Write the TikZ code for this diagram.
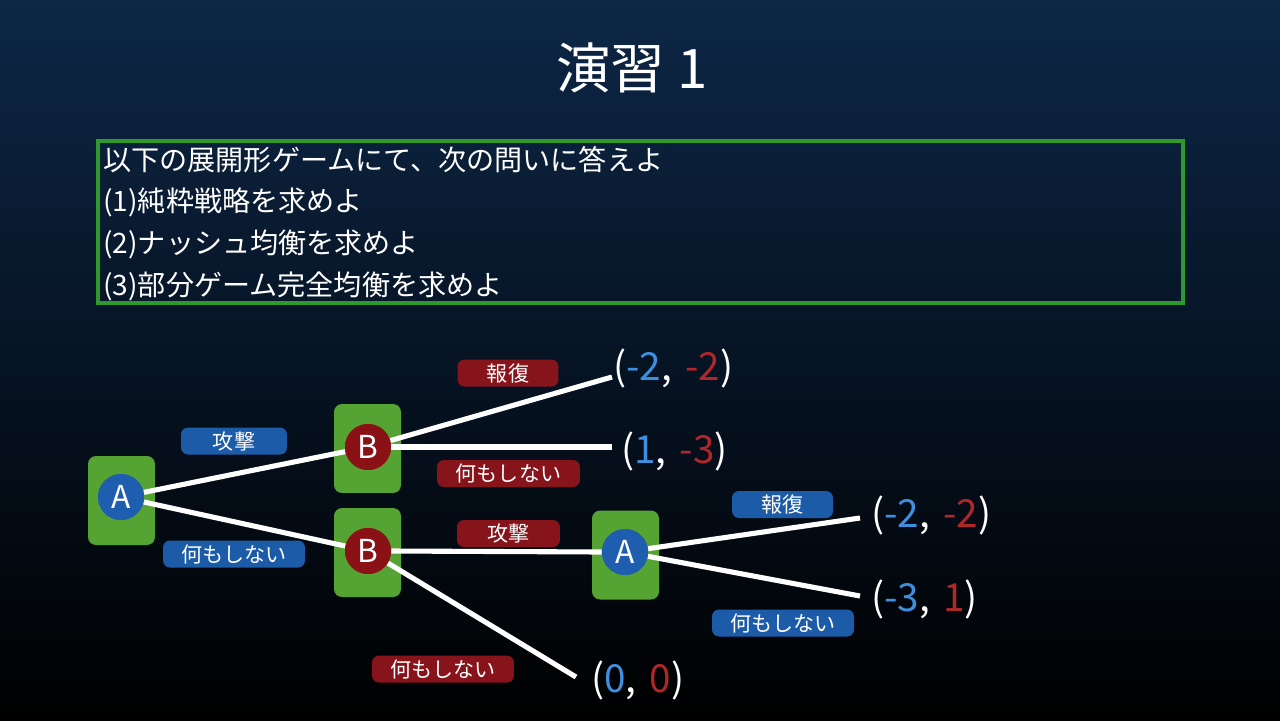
\documentclass[tikz,border=0pt]{standalone}
\usepackage{fontspec}
\setmainfont{Noto Sans CJK JP}
\definecolor{bgtop}{HTML}{0D2747}
\definecolor{bgbot}{HTML}{000000}
\definecolor{boxgreen}{HTML}{2E9A2E}
\definecolor{nodegreen}{HTML}{55A333}
\definecolor{cblue}{HTML}{1F5DAE}
\definecolor{cred}{HTML}{8A1217}
\definecolor{pblue}{HTML}{3E8FE0}
\definecolor{pred}{HTML}{B0272B}
\definecolor{lblue}{HTML}{1B5BA8}
\definecolor{lred}{HTML}{87141B}
\newcommand{\psep}{,\hspace{0.35em}}
\begin{document}
\begin{tikzpicture}[x=0.02cm,y=-0.02cm,
  info/.style={fill=nodegreen,rounded corners=0.16cm,minimum width=1.34cm,minimum height=1.78cm,inner sep=0pt},
  player/.style={circle,minimum size=0.92cm,inner sep=0pt,text=white,font=\fontsize{18pt}{20pt}\selectfont},
  pa/.style={player,fill=cblue},
  pb/.style={player,fill=cred},
  edge/.style={white,line width=2.9pt},
  lab/.style={rounded corners=0.14cm,minimum height=0.54cm,inner sep=0pt,text=white,font=\fontsize{12pt}{14pt}\selectfont},
  labb/.style={lab,fill=lblue},
  labr/.style={lab,fill=lred},
  pay/.style={text=white,inner sep=1pt,anchor=west,font=\fontsize{22pt}{24pt}\selectfont},
  qline/.style={text=white,anchor=west,inner sep=0pt,font=\fontsize{16pt}{20pt}\selectfont}
]
\useasboundingbox (0,0) rectangle (1280,720);
\shade[top color=bgtop,bottom color=bgbot] (0,0) rectangle (1280,720);
% title
\node[text=white,font=\fontsize{31pt}{34pt}\selectfont] (title) at (632,68) {演習 1};
% question box
\node[draw=boxgreen,line width=2pt,minimum width=21.7cm,minimum height=3.24cm,inner sep=0pt] (qbox) at (640.5,222) {};
\node[qline] (q0) at (103,160) {以下の展開形ゲームにて、次の問いに答えよ};
\node[qline] (q1) at (103,202) {(1)純粋戦略を求めよ};
\node[qline] (q2) at (103,244) {(2)ナッシュ均衡を求めよ};
\node[qline] (q3) at (103,286) {(3)部分ゲーム完全均衡を求めよ};
% information sets
\node[info] (g1) at (121.5,500.5) {};
\node[info] (g2) at (367.5,448.5) {};
\node[info] (g3) at (367.5,552.5) {};
\node[info] (g4) at (625.5,555) {};
% players
\node[pa] (a1) at (121,497) {A};
\node[pb] (b1) at (368,447) {B};
\node[pb] (b2) at (368,551) {B};
\node[pa] (a2) at (625,552) {A};
% payoffs
\node[pay] (p1) at (611,368) {(\textcolor{pblue}{-2}\psep\textcolor{pred}{-2})};
\node[pay] (p2) at (619,451) {(\textcolor{pblue}{1}\psep\textcolor{pred}{-3})};
\node[pay] (p3) at (869,515) {(\textcolor{pblue}{-2}\psep\textcolor{pred}{-2})};
\node[pay] (p4) at (869,599) {(\textcolor{pblue}{-3}\psep\textcolor{pred}{1})};
\node[pay] (p5) at (589,680) {(\textcolor{pblue}{0}\psep\textcolor{pred}{0})};
\coordinate (e1) at (612,377);
\coordinate (e2) at (612,447);
\coordinate (e3) at (860,518);
\coordinate (e4) at (860,596);
\coordinate (e5) at (576,677);
% edges
\draw[edge] (a1) -- (b1);
\draw[edge] (a1) -- (b2);
\draw[edge] (b1) -- (e1);
\draw[edge] (b1.east) -- (e2);
\draw[edge] (b2.east) -- (a2.west);
\draw[edge] (b2) -- (e5);
\draw[edge] (a2) -- (e3);
\draw[edge] (a2) -- (e4);
% redraw players on top
\node[pa] at (a1) {A};
\node[pb] at (b1) {B};
\node[pb] at (b2) {B};
\node[pa] at (a2) {A};
% action labels
\node[labr,minimum width=2.02cm] (l1) at (508,373) {報復};
\node[labb,minimum width=2.12cm] (l2) at (234,441) {攻撃};
\node[labr,minimum width=2.86cm] (l3) at (508.5,473.5) {何もしない};
\node[labb,minimum width=2.84cm] (l4) at (234,554) {何もしない};
\node[labr,minimum width=2.06cm] (l5) at (508.5,533.5) {攻撃};
\node[labb,minimum width=2.02cm] (l6) at (782.5,504.5) {報復};
\node[labb,minimum width=2.84cm] (l7) at (783,623) {何もしない};
\node[labr,minimum width=2.84cm] (l8) at (443,669) {何もしない};
\end{tikzpicture}
\end{document}
